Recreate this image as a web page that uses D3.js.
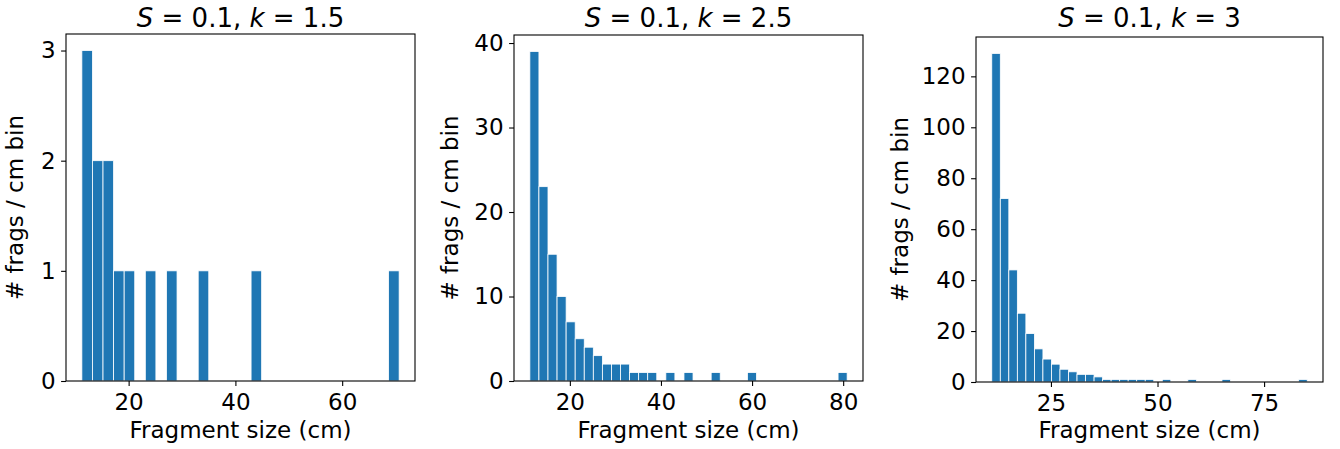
<!DOCTYPE html>
<html>
<head>
<meta charset="utf-8">
<script src="https://cdn.jsdelivr.net/npm/d3@7"></script>
<style>
  body { margin: 0; background: #fff; }
  text { font-family: "DejaVu Sans", sans-serif; fill: #000; }
</style>
</head>
<body>
<script>
// Histogram data: first bin edge (cm), bin width (cm), counts per bin
const titles = [["S", "0.1", "k", "1.5"], ["S", "0.1", "k", "2.5"], ["S", "0.1", "k", "3"]];

const binStart1 = 11.24, binWidth1 = 1.981;
const counts1 = [3, 2, 2, 1, 1, 0, 1, 0, 1, 0, 0, 1, 0, 0, 0, 0, 1, 0, 0, 0, 0, 0, 0, 0, 0, 0, 0, 0, 0, 1];
const xTicks1 = [20, 40, 60];
const yTicks1 = [0, 1, 2, 3];

const binStart2 = 11.22, binWidth2 = 1.99;
const counts2 = [39, 23, 15, 10, 7, 5, 4, 3, 2, 2, 2, 1, 1, 1, 0, 1, 0, 1, 0, 0, 1, 0, 0, 0, 1, 0, 0, 0, 0, 0, 0, 0, 0, 0, 1];
const xTicks2 = [20, 40, 60, 80];
const yTicks2 = [0, 10, 20, 30, 40];

const binStart3 = 11.12, binWidth3 = 2.0;
const counts3 = [129, 72, 44, 27, 19, 13, 9, 7, 5, 4, 3, 3, 2, 1, 1, 1, 1, 1, 1, 0, 1, 0, 0, 1, 0, 0, 0, 1, 0, 0, 0, 0, 0, 0, 0, 0, 1];
const xTicks3 = [25, 50, 75];
const yTicks3 = [0, 20, 40, 60, 80, 100, 120];

const xLabel = "Fragment size (cm)";
const yLabel = "# frags / cm bin";

const width = 1340, height = 449;
const svg = d3.select("body").append("svg").attr("width", width).attr("height", height);

const panels = [
  { box: [66, 415, 34, 381], start: binStart1, w: binWidth1, counts: counts1, xt: xTicks1, yt: yTicks1, title: titles[0], ylx: 23 },
  { box: [514, 863, 35, 381], start: binStart2, w: binWidth2, counts: counts2, xt: xTicks2, yt: yTicks2, title: titles[1], ylx: 458 },
  { box: [976, 1323, 37, 382], start: binStart3, w: binWidth3, counts: counts3, xt: xTicks3, yt: yTicks3, title: titles[2], ylx: 908 },
];

panels.forEach(p => {
  const [x0, x1, y0, y1] = p.box;
  const lo = p.start, hi = p.start + p.counts.length * p.w;
  const pad = 0.05 * (hi - lo);
  const x = d3.scaleLinear().domain([lo - pad, hi + pad]).range([x0, x1]);
  const y = d3.scaleLinear().domain([0, d3.max(p.counts) * 1.05]).range([y1, y0]);

  const g = svg.append("g");

  // bars
  g.selectAll("rect.bar")
    .data(p.counts.map((c, i) => ({ c, i })).filter(d => d.c > 0))
    .enter().append("rect")
    .attr("class", "bar")
    .attr("x", d => x(p.start + d.i * p.w))
    .attr("width", d => x(p.start + (d.i + 1) * p.w) - x(p.start + d.i * p.w))
    .attr("y", d => y(d.c))
    .attr("height", d => y(0) - y(d.c))
    .attr("fill", "#1f77b4")
    .attr("stroke", "#fff")
    .attr("stroke-width", 0.8);

  // axes
  const xAxis = g.append("g").attr("transform", `translate(0,${y1})`)
    .call(d3.axisBottom(x).tickValues(p.xt).tickSize(4.9).tickPadding(7.5).tickFormat(d3.format("d")));
  const yAxis = g.append("g").attr("transform", `translate(${x0},0)`)
    .call(d3.axisLeft(y).tickValues(p.yt).tickSize(4.9).tickPadding(5.5).tickFormat(d3.format("d")));
  [xAxis, yAxis].forEach(a => {
    a.select(".domain").remove();
    a.selectAll(".tick line").attr("stroke", "#000").attr("stroke-width", 1.1);
    a.selectAll(".tick text").style("font-size", "23px").attr("fill", "#000");
  });

  // frame
  g.append("rect")
    .attr("x", x0).attr("y", y0).attr("width", x1 - x0).attr("height", y1 - y0)
    .attr("fill", "none").attr("stroke", "#000").attr("stroke-width", 1.1);

  // title (mathtext-like)
  const t = g.append("text")
    .attr("x", (x0 + x1) / 2).attr("y", 27)
    .attr("text-anchor", "middle")
    .style("font-size", "26px");
  t.append("tspan").attr("font-style", "italic").text(p.title[0]);
  t.append("tspan").text(" = " + p.title[1] + ", ");
  t.append("tspan").attr("font-style", "italic").text(p.title[2]);
  t.append("tspan").text(" = " + p.title[3]);

  // axis labels
  g.append("text")
    .attr("x", (x0 + x1) / 2).attr("y", 438)
    .attr("text-anchor", "middle")
    .style("font-size", "23px")
    .text(xLabel);
  g.append("text")
    .attr("transform", `translate(${p.ylx},${(y0 + y1) / 2}) rotate(-90)`)
    .attr("text-anchor", "middle")
    .style("font-size", "23px")
    .text(yLabel);
});
</script>
</body>
</html>
